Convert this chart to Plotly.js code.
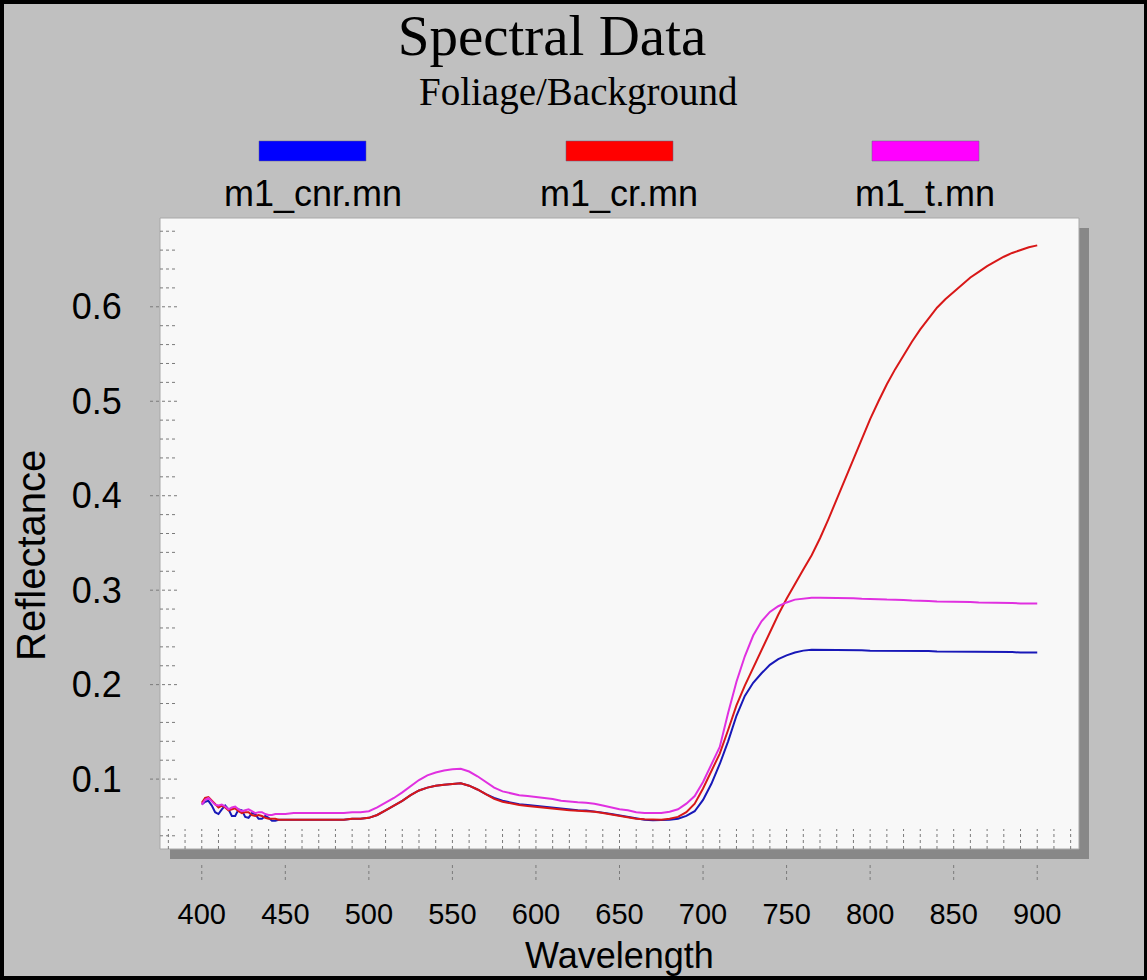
<!DOCTYPE html>
<html>
<head>
<meta charset="utf-8">
<script src="https://cdn.plot.ly/plotly-3.0.1.min.js"></script>
<style>
  html, body { margin: 0; padding: 0; background: #c0c0c0; }
  #wrap { position: relative; width: 1147px; height: 980px; overflow: hidden; }
  #chart { position: absolute; left: 0; top: 0; width: 1147px; height: 980px; }
  #frame { position: absolute; left: 0; top: 0; width: 1147px; height: 980px; box-sizing: border-box;
           border: 4px solid #000; border-right-width: 3px; pointer-events: none; }
</style>
</head>
<body>
<div id="wrap"><div id="chart"></div><div id="frame"></div></div>
<script>
// ---- data ----
const wavelengths = [400,402,404,406,408,410,412,414,416,418,420,422,424,426,428,430,432,434,436,438,440,442,444,446,448,450,
  455,460,465,470,475,480,485,490,495,500,505,510,515,520,525,530,535,540,545,550,555,560,565,570,575,580,585,590,595,600,
  605,610,615,620,625,630,635,640,645,650,655,660,665,670,675,680,685,690,695,700,705,710,715,720,725,730,735,740,745,750,
  755,760,765,770,775,780,785,790,795,800,805,810,815,820,825,830,835,840,845,850,855,860,865,870,875,880,885,890,895,900];

const seriesNames = ["m1_cnr.mn", "m1_cr.mn", "m1_t.mn"];

const m1_cnr = [0.073,0.076,0.077,0.072,0.065,0.063,0.068,0.072,0.068,0.061,0.061,0.068,0.067,0.060,0.059,0.064,0.063,0.058,0.058,0.061,0.059,0.056,0.056,0.057,0.057,0.057,
  0.057,0.057,0.057,0.057,0.057,0.057,0.057,0.058,0.058,0.059,
  0.062,0.067,0.072,0.077,0.083,0.088,0.091,0.093,0.094,0.095,
  0.0955,0.093,0.089,0.084,0.080,0.077,0.075,0.0735,0.0725,0.0715,
  0.0705,0.0695,0.0685,0.0675,0.067,0.0668,0.066,0.0645,0.063,0.0615,
  0.0595,0.058,0.057,0.0565,0.0565,0.057,0.058,0.061,0.066,0.078,
  0.095,0.116,0.140,0.167,0.188,0.202,0.212,0.221,0.227,0.231,
  0.234,0.236,0.237,0.237,0.237,0.237,0.237,0.2365,0.2365,0.236,
  0.236,0.236,0.236,0.236,0.236,0.2355,0.2355,0.235,0.235,0.235,
  0.235,0.235,0.235,0.2345,0.2345,0.2345,0.2345,0.234,0.234,0.234];

const m1_cr = [0.075,0.080,0.081,0.077,0.073,0.070,0.072,0.070,0.067,0.068,0.069,0.066,0.064,0.065,0.065,0.062,0.061,0.062,0.061,0.059,0.058,0.058,0.058,0.057,0.057,0.057,
  0.057,0.057,0.057,0.057,0.057,0.057,0.057,0.058,0.058,0.059,
  0.062,0.067,0.072,0.077,0.083,0.088,0.091,0.093,0.094,0.095,
  0.0955,0.093,0.089,0.084,0.079,0.076,0.074,0.0725,0.0715,0.0705,
  0.0695,0.069,0.068,0.067,0.0665,0.066,0.0655,0.064,0.0625,0.061,
  0.0595,0.058,0.0575,0.057,0.057,0.058,0.060,0.065,0.074,0.090,
  0.108,0.127,0.152,0.178,0.199,0.218,0.237,0.256,0.274,0.291,
  0.307,0.322,0.337,0.355,0.375,0.396,0.418,0.440,0.461,0.481,
  0.500,0.518,0.534,0.549,0.563,0.576,0.588,0.599,0.608,0.616,
  0.624,0.631,0.637,0.643,0.648,0.653,0.657,0.660,0.663,0.665];

const m1_t = [0.073,0.078,0.080,0.076,0.073,0.072,0.073,0.071,0.068,0.070,0.071,0.068,0.066,0.067,0.068,0.066,0.064,0.065,0.065,0.063,0.062,0.062,0.063,0.063,0.063,0.063,
  0.064,0.064,0.064,0.064,0.064,0.064,0.064,0.065,0.065,0.066,
  0.070,0.075,0.080,0.086,0.093,0.099,0.104,0.107,0.109,0.1105,
  0.111,0.108,0.103,0.097,0.091,0.087,0.085,0.083,0.082,0.081,
  0.080,0.079,0.077,0.076,0.0755,0.075,0.074,0.072,0.070,0.068,
  0.067,0.065,0.064,0.064,0.064,0.0655,0.068,0.074,0.082,0.097,
  0.115,0.134,0.170,0.203,0.230,0.252,0.267,0.277,0.283,0.287,
  0.290,0.291,0.292,0.292,0.292,0.292,0.2915,0.2915,0.291,0.291,
  0.2905,0.290,0.290,0.2895,0.289,0.289,0.2885,0.288,0.288,0.288,
  0.2875,0.2875,0.287,0.287,0.287,0.2865,0.2865,0.286,0.286,0.286];

const xTickVals = [400,450,500,550,600,650,700,750,800,850,900];
const yTickVals = [0.1,0.2,0.3,0.4,0.5,0.6];
const yTickText = ["0.1","0.2","0.3","0.4","0.5","0.6"];

// ---- styling ----
const lineColors = ["#1818b8", "#d81818", "#e030e0"];
const swatchColors = ["#0000ff", "#ff0000", "#ff00ff"];
const SANS = "Liberation Sans, Arial, sans-serif";
const SERIF = "Liberation Serif, Times New Roman, serif";

const W = 1147, H = 980;
const M = {l: 160, r: 68, t: 218, b: 131};
const PW = W - M.l - M.r, PH = H - M.t - M.b;
const px2x = p => (p - M.l) / PW;            // page px -> paper x
const py2y = p => (H - M.b - p) / PH;        // page px -> paper y

const series = [m1_cnr, m1_cr, m1_t];
const traces = series.map((s, i) => ({
  type: "scatter", mode: "lines", name: seriesNames[i],
  x: wavelengths, y: s,
  line: {color: lineColors[i], width: 2}, showlegend: false, hoverinfo: "x+y+name"
}));

const shapes = [];
// drop shadow and plot panel
shapes.push({type: "rect", xref: "paper", yref: "paper", x0: 10/PW, x1: 1 + 10/PW, y0: -10/PH, y1: 1 - 10/PH,
  fillcolor: "#888888", line: {width: 0}, layer: "below"});
shapes.push({type: "rect", xref: "paper", yref: "paper", x0: 0, x1: 1, y0: 0, y1: 1,
  fillcolor: "#f8f8f8", line: {color: "#a8a8a8", width: 1}, layer: "below"});

const tickStyle = {color: "#7a7a7a", width: 1, dash: "3px,3px"};
// x minor ticks inside the bottom of the panel every 10 nm
for (let v = 380; v <= 920; v += 10) {
  shapes.push({type: "line", xref: "x", yref: "paper", x0: v, x1: v, y0: 0, y1: 20/PH, line: tickStyle, layer: "above"});
}
// x major ticks below the shadow
xTickVals.forEach(v => shapes.push({type: "line", xref: "x", yref: "paper", x0: v, x1: v,
  y0: -16/PH, y1: -34/PH, line: tickStyle}));
// y minor ticks inside the left side every 0.02
for (let k = 2; k <= 34; k++) {
  const v = k * 0.02;
  const major = (k % 5 === 0);
  shapes.push({type: "line", xref: "paper", yref: "y", x0: major ? -10/PW : 0, x1: 17/PW, y0: v, y1: v, line: tickStyle});
}

// legend swatches
const swatchX = [[259, 366], [566, 673], [872, 979]];
const labelX = [313, 619, 925];
swatchX.forEach((sx, i) => shapes.push({type: "rect", xref: "paper", yref: "paper",
  x0: px2x(sx[0]), x1: px2x(sx[1]), y0: py2y(161), y1: py2y(141),
  fillcolor: swatchColors[i], line: {color: "#606080", width: 0.5}}));

const annotations = seriesNames.map((n, i) => ({
  text: n, xref: "paper", yref: "paper", x: px2x(labelX[i]), y: py2y(193), xanchor: "center", yanchor: "middle",
  showarrow: false, font: {family: SANS, size: 36, color: "#000"}
}));
annotations.push({text: "Foliage/Background", xref: "paper", yref: "paper", x: px2x(578), y: py2y(92),
  xanchor: "center", yanchor: "middle", showarrow: false, font: {family: SERIF, size: 39, color: "#000"}});
// y-axis title, placed where the reference shows it
annotations.push({text: "Reflectance", xref: "paper", yref: "paper", x: px2x(31), y: py2y(556),
  xanchor: "center", yanchor: "middle", textangle: -90, showarrow: false,
  font: {family: SANS, size: 40, color: "#000"}});

const layout = {
  width: W, height: H,
  margin: M,
  paper_bgcolor: "#c0c0c0",
  plot_bgcolor: "rgba(0,0,0,0)",
  title: {text: "Spectral Data", font: {family: SERIF, size: 57, color: "#000"},
          x: 552/W, xref: "container", xanchor: "center", y: 1 - 35/H, yref: "container", yanchor: "middle"},
  xaxis: {
    range: [375, 925], showgrid: false, zeroline: false, showline: false,
    tickmode: "array", tickvals: xTickVals, ticktext: xTickVals.map(String),
    ticks: "outside", ticklen: 39, tickcolor: "rgba(0,0,0,0)",
    tickfont: {family: SANS, size: 29, color: "#000"},
    title: {text: "Wavelength", font: {family: SANS, size: 36, color: "#000"}, standoff: 14}
  },
  yaxis: {
    range: [0.026, 0.694], showgrid: false, zeroline: false, showline: false,
    tickmode: "array", tickvals: yTickVals, ticktext: yTickText,
    ticks: "outside", ticklen: 30, tickcolor: "rgba(0,0,0,0)",
    tickfont: {family: SANS, size: 36, color: "#000"}
  },
  shapes: shapes,
  annotations: annotations,
  showlegend: false
};

Plotly.newPlot("chart", traces, layout, {displayModeBar: false, staticPlot: true});
</script>
</body>
</html>
